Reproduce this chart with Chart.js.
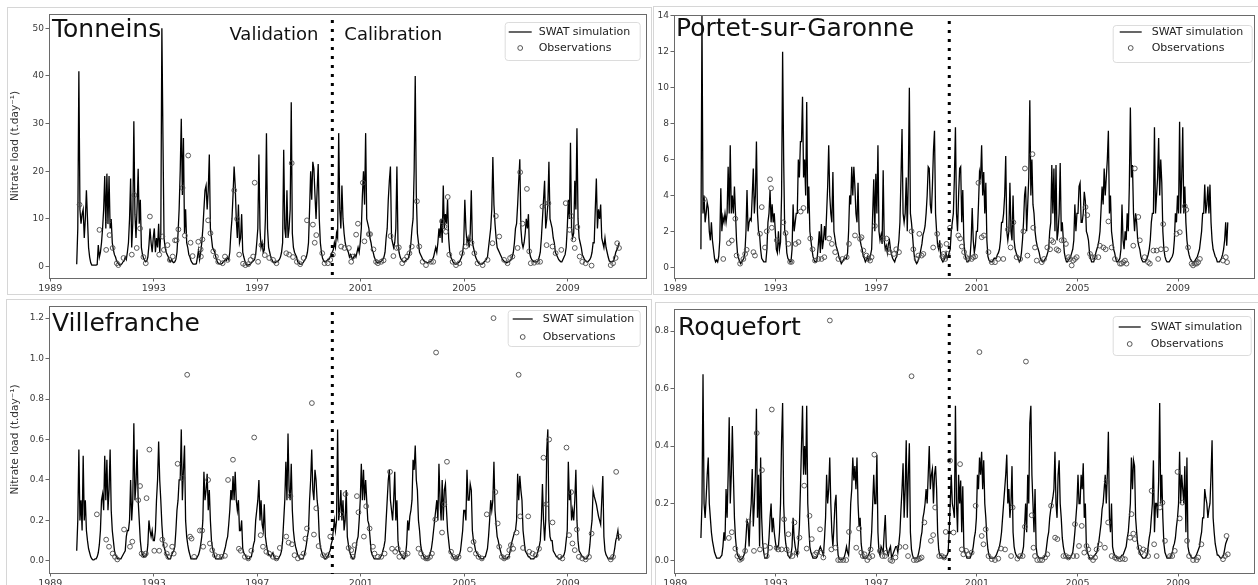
<!DOCTYPE html>
<html><head><meta charset="utf-8">
<script src="https://cdn.jsdelivr.net/npm/chart.js@4.4.1/dist/chart.umd.min.js"></script>
<style>
html,body{margin:0;padding:0;background:#fff;}
#wrap{position:relative;width:1258px;height:585px;overflow:hidden;background:#fff;}
.frame{position:absolute;border:1px solid #d6d6d6;box-sizing:border-box;}
canvas{position:absolute;}
</style></head><body>
<div id="wrap">
<div class="frame" style="left:7px;top:7px;width:645px;height:288px"></div>
<div class="frame" style="left:653px;top:6px;width:606px;height:289px"></div>
<div class="frame" style="left:6px;top:299px;width:646px;height:290px"></div>
<div class="frame" style="left:655px;top:302px;width:604px;height:287px"></div>
<canvas id="c1" width="650" height="295" style="left:0;top:0"></canvas>
<canvas id="c2" width="606" height="295" style="left:652px;top:0"></canvas>
<canvas id="c3" width="650" height="290" style="left:0;top:295px"></canvas>
<canvas id="c4" width="606" height="290" style="left:652px;top:295px"></canvas>
</div>
<script>
// ---------- DATA ----------
const simStartYear = 1990;           // first simulated year, 24 samples per year
const splitYear = 1999.9;            // validation / calibration boundary
const xTickYears = [1989, 1993, 1997, 2001, 2005, 2009];

// Tonneins (t/day)
const tonSim = [
[0.5,8,41,12,9,11,12,6,10,16,10,4,2,0.8,0.3,0.3,0.3,0.3,0.3,0.4,4.5,2,3,5],
[8,12,19,8,19.5,9,19,8,10,5,3.5,2.5,2,1.2,0.8,0.5,0.3,0.4,0.6,1,1.2,2,1.5,3],
[5,10,18.5,4,9,30.5,11,6,12.5,20.5,9,14,4,2.5,1.8,1.3,1,1.2,2,4.5,8,5,3,6],
[8,3,6,4,9,3,7,50,27,6,4,3,2.5,2,1.2,1,1.5,1,0.8,1,1.5,3,7,12],
[20,31,15,27,7,12,5,4,2.5,2,1.2,0.8,0.5,0.5,0.5,0.6,2,3.5,1.5,3,5,8,12,16],
[17,12,16,23.5,8,6,4,3.5,3,2,1.2,0.8,0.6,0.5,0.5,0.7,1,1.2,1.5,1.3,2,1.5,3,7],
[10,15,21,17,10,6,13,5,6,11,3,2,1.2,0.5,0.3,0.3,0.4,0.5,0.8,1,1.2,1.5,2.5,5],
[8,23.5,8,4,5,3,3.5,10,28,8,4,3,2,1.5,1,0.8,0.8,1,1,1.2,1.5,2,3,5],
[24.5,8,6,16,6,8,12,34.5,7,4,3,2.5,2,1,0.8,0.5,0.5,0.5,0.8,1.2,1.5,2,3,5],
[12,20,14,22,20.5,15,10,16,21.5,10,5,3,1.8,1.2,1,1,1.2,1.5,1.5,2,2.5,3,3.5,5],
[4,7,6,28,12,8,17,10,7,5,4,3.5,3,2,2.5,2,1.5,2,2.5,2,3,4,3,5],
[8,15,20,13,28,10,9,8,6,5,3.5,3,2,1.5,1,0.8,0.8,1,1,1.2,1.5,2,3,6],
[8,14,18,21,6,5,4,5,8,21,5,3,2,1.5,1.2,1,1,1.2,1.5,1.5,2,3,5,8],
[10,20,40,15,7,5,3,2.5,2,1.5,1.2,1,1,0.8,0.8,1,1,1.2,1.5,2,3,4,3,5],
[8,6,10,5,17,8,11,9,14,6,3,2,1.5,1,0.7,0.5,0.5,0.6,0.8,1,1.5,2,3,5],
[14,8,5,6,4,7,16,5,4,3,2,1.5,1,0.7,0.5,0.5,0.5,0.7,1,1.2,1.5,2,4,6],
[8,12,23,13,9,6,4,3.5,3,2.5,2,1.5,1.2,1,0.8,0.8,1,1,1.2,1.5,2,3,5,8],
[9,13,18,22.5,8,5,4,5,7,10,8,11,3,2,1.5,1.2,1,1,1,1,1.2,2,3,6],
[10,14,18,8,10,13,22,10,9,8,6,5,3,2.5,2,1.5,1.2,1,1,1.5,2,2.5,4,8],
[14,10,26,8,6,7,18,12,29,10,6,5,4,2.5,2,1.5,1.2,1,1,1.2,1.5,2,3,5],
[5,12,18.5,8,12,10,13,6,5,4,6,4,3,2,1.2,1,1,1,1.2,2,3,3.5,4,5]
];
const tonObs = [
[1990.13,13],[1990.90,7.7],[1991.16,3.5],[1991.25,9.5],[1991.29,6.6],[1991.41,3.9],[1991.57,0.7],[1991.63,0.3],[1991.83,1.8],
[1992.15,2.5],[1992.25,15],[1992.34,3.9],[1992.47,8],[1992.60,2],[1992.69,0.7],[1992.85,10.5],[1993.21,2.5],[1993.33,6.3],
[1993.39,3.5],[1993.53,4.5],[1993.62,1.4],[1993.73,2.1],[1993.82,5.5],[1993.88,5.5],[1993.95,7.8],[1994.11,16.5],[1994.20,6.5],
[1994.33,23.3],[1994.42,5],[1994.50,2.2],[1994.72,5.2],[1994.81,3.6],[1994.82,2.1],[1994.88,5.7],[1995.10,9.7],[1995.19,7],
[1995.30,3.2],[1995.40,2.1],[1995.49,1],[1995.66,0.7],[1995.75,2.1],[1995.85,1.4],[1996.11,16],[1996.22,10],[1996.30,2.5],
[1996.45,0.6],[1996.54,0.3],[1996.65,0.5],[1996.74,1.4],[1996.84,2.1],[1996.90,17.6],[1997.03,1],[1997.16,4.5],[1997.29,2.4],
[1997.46,1.8],[1997.61,1.4],[1997.74,0.7],[1998.12,2.8],[1998.23,2.5],[1998.33,21.7],[1998.38,2],[1998.53,1],[1998.66,0.5],
[1998.79,1.8],[1998.92,9.7],[1999.15,8.8],[1999.22,5],[1999.28,6.6],[1999.51,2.8],[1999.60,0.7],[1999.73,0.7],[1999.82,1.4],
[1999.92,2.5],[2000.24,4.2],[2000.37,3.9],[2000.54,3.9],[2000.63,1],[2000.69,2.1],[2000.82,6.7],[2000.89,9],[2001.08,17.6],
[2001.14,5.3],[2001.31,6.8],[2001.36,6.8],[2001.49,3.6],[2001.59,1],[2001.66,0.7],[2001.79,1],[2001.88,1.3],[2002.15,6.4],
[2002.26,2.2],[2002.39,3.9],[2002.47,4],[2002.60,0.7],[2002.69,1.4],[2002.79,2.1],[2002.88,2.8],[2002.97,4.2],[2003.17,13.7],
[2003.26,4.2],[2003.39,1],[2003.52,0.3],[2003.71,1],[2003.80,1],[2004.14,9.5],[2004.23,8.4],[2004.29,7.3],[2004.36,14.6],
[2004.42,2.5],[2004.55,1],[2004.68,0.3],[2004.81,0.7],[2004.91,2.8],[2005.06,4.2],[2005.17,5.6],[2005.28,5],[2005.39,2.8],
[2005.51,0.7],[2005.71,0.3],[2005.90,1.4],[2006.09,4.9],[2006.22,10.6],[2006.35,6.3],[2006.54,1.4],[2006.67,0.7],[2006.77,1.8],
[2006.86,2.1],[2007.06,3.9],[2007.16,19.8],[2007.25,9],[2007.42,16.3],[2007.51,3.2],[2007.57,0.7],[2007.70,0.8],[2007.83,1],
[2007.93,1],[2008.02,12.6],[2008.18,4.5],[2008.25,13.3],[2008.41,4.2],[2008.53,2.8],[2008.75,3.5],[2008.92,13.3],[2009.07,7.7],
[2009.14,10.6],[2009.22,5.7],[2009.27,3.9],[2009.37,8.3],[2009.46,2.1],[2009.56,1],[2009.69,0.7],[2009.92,0.2],[2010.66,0.3],
[2010.75,0.7],[2010.85,1.8],[2010.91,4.9],[2010.98,3.9]
];

// Portet-sur-Garonne (t/day)
const porSim = [
[1,14,3,4,2.5,3,3.6,3.3,2,1.5,2.5,1.5,1,0.5,0.3,0.4,0.3,0.6,1.5,4.4,2,2.8,2.5,3],
[2.5,3,5.6,3,6.8,3,4,3,4.5,3,1.5,0.7,0.5,0.3,0.2,0.3,0.4,0.5,0.8,2,4.3,2,2.5,2.7],
[2.6,4,5.5,3,4,7,3,2,1.8,1,0.5,0.4,0.3,0.3,0.3,1,2.5,3,4.3,2.5,3.5,2.5,3,2],
[1,0.8,2,1,1.4,4,12,6,2,1.8,0.8,0.5,0.4,0.3,0.3,1,3.5,2,2.5,3,3,6,5,7],
[7,9.5,5,6,4,9.2,3,4.5,2,1.5,1,0.6,0.4,0.3,0.3,0.5,1.2,2,0.8,2.4,1,1.5,2.3,1.5],
[3,4.5,6.8,4,3,2.5,5.3,2,1.6,1.2,1,0.8,0.5,0.4,0.2,0.3,0.4,0.5,0.5,0.5,0.8,2,4,3.5],
[5.6,4,5.6,4.5,3,2.5,4.7,2,1.5,1.2,1,0.6,0.5,0.3,0.4,0.6,0.4,0.5,0.7,1,3,4.9,2,5.2],
[3,6.8,2,1.5,1.8,1.3,5.4,1.5,1,1.2,0.8,1.3,1.5,1,0.7,0.5,0.4,0.3,0.5,0.6,1,1.5,2.5,5],
[7.7,3,2.5,3,5,2,5,10,3,2.5,1.8,1,0.5,0.3,0.2,0.3,0.5,0.7,1,1.3,1.8,2,2.3,3],
[4,5.6,5.5,3.5,3,4.5,6.5,7.6,3,2,1.2,1,1.5,0.6,0.4,0.3,0.4,0.5,0.8,0.5,0.6,0.8,1,2],
[2.5,3,5,7.8,3,2,4,5.5,5.6,2.5,4.3,1.5,0.8,0.5,0.3,0.3,0.4,0.6,1.5,3.3,1.5,0.8,1.2,2],
[2,3.5,5.3,5,6.8,4,5.3,3,4.7,1.5,0.6,0.4,0.3,0.3,0.3,0.4,0.5,0.5,0.5,0.7,0.8,1,1.5,2.5],
[2.5,3,4,6.2,2,1.5,2,4.7,2,1.5,4,1.5,1,0.8,0.6,0.5,0.3,0.4,0.8,1.5,2.5,4,4.5,2],
[3.5,5,9.3,4,6,3.5,3,2,1.5,1.2,1,0.8,0.5,0.4,0.3,0.3,0.4,0.5,0.6,0.8,1,2,2.5,5.7],
[3,5.5,2,5.7,1.5,2,3,5.8,2,2.5,1.5,0.8,0.5,0.3,0.3,0.4,0.5,0.6,0.8,1,1.5,3.5,2,3],
[3,4.5,4.7,2.5,2.5,3,4.2,3.7,2,1.8,1.5,0.8,0.5,0.3,0.3,0.3,0.5,0.8,1,1.2,1.5,2,3.2,4.5],
[3.5,5.5,4,5,6,7.6,3,4,2,1.5,1,0.8,0.5,0.3,0.3,0.4,0.5,1,3.5,1.5,1,2,1.5,3],
[2,4.5,8.9,5,5.7,3,2,3,2.5,1.5,1.2,1,0.6,0.4,0.3,0.3,0.3,0.4,0.5,0.7,1,1.5,2.5,3],
[3,7.8,3,4,5,7.2,4,6,4.7,2,1,0.6,0.4,0.3,0.3,0.3,0.4,0.5,0.6,0.8,1.5,3,2.5,4],
[3,8.1,3,5,7.8,3,4.5,2.5,1.5,1,0.7,0.5,0.4,0.3,0.3,0.3,0.4,0.5,0.6,0.8,1,1.5,2,3],
[3,4.6,3,3.5,4.5,3,4.6,2.5,1.5,1,0.8,0.6,0.5,0.3,0.3,0.3,0.4,0.5,0.7,1,1.5,2.5,1.2,2.5]
];
const porObs = [
[1990.15,3.8],[1990.91,0.46],[1991.13,1.34],[1991.25,1.49],[1991.39,2.7],[1991.44,0.65],[1991.58,0.2],[1991.71,0.46],[1991.78,0.74],
[1991.84,0.97],[1992.11,0.84],[1992.17,0.65],[1992.37,1.86],[1992.44,3.35],[1992.57,1.1],[1992.64,2],[1992.77,4.9],[1992.81,4.4],
[1992.84,2.2],[1993.04,1.5],[1993.30,2.5],[1993.39,1.9],[1993.50,1.3],[1993.57,0.3],[1993.63,0.3],[1993.79,1.3],[1993.90,1.4],
[1993.99,3.1],[1994.10,3.3],[1994.37,1.6],[1994.46,1],[1994.56,0.37],[1994.69,0.46],[1994.82,0.46],[1994.93,0.56],[1995.12,1.6],
[1995.23,1.3],[1995.36,0.84],[1995.49,0.46],[1995.65,0.46],[1995.82,0.56],[1995.91,1.3],[1996.15,1.77],[1996.35,1.58],[1996.41,1.67],
[1996.48,0.93],[1996.61,0.65],[1996.68,0.46],[1996.75,0.37],[1996.81,0.56],[1996.94,2.3],[1997.27,1.6],[1997.40,1.6],[1997.46,1],
[1997.53,0.84],[1997.70,0.74],[1997.79,1],[1997.90,0.84],[1998.40,2],[1998.47,1],[1998.60,0.46],[1998.67,0.65],[1998.71,1.86],
[1998.80,0.65],[1998.87,0.74],[1999.26,1.1],[1999.42,1.86],[1999.53,1.2],[1999.62,0.6],[1999.67,0.74],[1999.74,0.46],[1999.79,1.3],
[1999.83,0.74],[1999.93,2.2],[2000.26,1.77],[2000.33,1.6],[2000.40,1.15],[2000.49,0.84],[2000.57,0.56],[2000.66,0.46],[2000.79,0.46],
[2000.86,0.56],[2000.93,0.6],[2001.06,4.7],[2001.19,1.67],[2001.28,1.77],[2001.46,0.84],[2001.59,0.28],[2001.72,0.28],[2001.85,0.46],
[2002.05,0.46],[2002.23,2.1],[2002.34,1.1],[2002.45,2.5],[2002.58,0.56],[2002.72,0.46],[2002.85,2],[2002.91,5.5],[2003.01,0.65],
[2003.21,6.3],[2003.24,2.2],[2003.31,1.1],[2003.38,0.37],[2003.58,0.28],[2003.67,0.46],[2003.80,1.1],[2003.91,1],[2003.97,1.5],
[2004.04,1.4],[2004.17,1],[2004.24,0.93],[2004.37,1.5],[2004.46,1.5],[2004.54,1.3],[2004.64,0.56],[2004.70,0.46],[2004.77,0.1],
[2004.83,0.37],[2004.90,0.46],[2004.97,0.56],[2005.32,3.35],[2005.39,2.9],[2005.50,0.74],[2005.56,0.56],[2005.69,0.56],[2005.83,0.56],
[2005.89,1.2],[2006.03,1.1],[2006.12,1],[2006.23,2.55],[2006.36,1.1],[2006.49,0.46],[2006.69,0.2],[2006.75,0.2],[2006.82,0.28],
[2006.89,0.37],[2006.95,0.2],[2007.22,1.2],[2007.28,5.5],[2007.42,2.8],[2007.48,1.5],[2007.67,0.56],[2007.81,0.28],[2007.88,0.2],
[2008.02,0.93],[2008.15,0.93],[2008.21,0.46],[2008.32,1],[2008.41,2.4],[2008.52,1],[2008.94,1.86],[2009.07,1.95],[2009.27,3.4],
[2009.33,3.2],[2009.40,1.1],[2009.54,0.2],[2009.60,0.1],[2009.67,0.2],[2009.74,0.2],[2009.80,0.28],[2009.87,0.46],[2010.79,0.37],
[2010.90,0.56],[2010.95,0.28]
];

// Villefranche (t/day)
const vilSim = [
[0.05,0.2,0.55,0.2,0.3,0.15,0.52,0.2,0.3,0.15,0.1,0.06,0.04,0.02,0.01,0.005,0.005,0.01,0.01,0.02,0.04,0.08,0.15,0.3],
[0.33,0.25,0.52,0.3,0.5,0.25,0.35,0.55,0.25,0.15,0.1,0.05,0.03,0.02,0.01,0.01,0.01,0.01,0.02,0.03,0.04,0.05,0.12,0.15],
[0.15,0.2,0.4,0.2,0.3,0.68,0.3,0.38,0.55,0.3,0.2,0.1,0.05,0.03,0.02,0.02,0.02,0.03,0.08,0.2,0.15,0.12,0.15,0.1],
[0.1,0.15,0.3,0.4,0.59,0.4,0.3,0.18,0.1,0.07,0.05,0.03,0.02,0.01,0.01,0.01,0.03,0.04,0.05,0.07,0.15,0.25,0.3,0.4],
[0.4,0.65,0.3,0.45,0.57,0.2,0.12,0.08,0.05,0.03,0.01,0.01,0.01,0.01,0.01,0.01,0.02,0.03,0.05,0.08,0.12,0.2,0.44,0.3],
[0.35,0.43,0.25,0.35,0.2,0.1,0.06,0.04,0.02,0.01,0.01,0.01,0.01,0.01,0.01,0.02,0.03,0.05,0.07,0.1,0.12,0.18,0.25,0.35],
[0.3,0.42,0.3,0.44,0.3,0.25,0.3,0.15,0.15,0.2,0.06,0.04,0.03,0.02,0.01,0.01,0.01,0.02,0.02,0.05,0.08,0.1,0.2,0.25],
[0.3,0.4,0.2,0.3,0.18,0.15,0.28,0.12,0.08,0.05,0.03,0.03,0.02,0.03,0.04,0.02,0.01,0.01,0.01,0.01,0.02,0.03,0.05,0.1],
[0.2,0.3,0.49,0.3,0.63,0.35,0.3,0.48,0.25,0.15,0.1,0.07,0.05,0.03,0.02,0.01,0.01,0.01,0.01,0.03,0.05,0.08,0.12,0.15],
[0.3,0.4,0.55,0.35,0.3,0.45,0.4,0.3,0.25,0.12,0.07,0.05,0.03,0.02,0.01,0.01,0.02,0.02,0.04,0.05,0.08,0.1,0.15,0.2],
[0.15,0.2,0.65,0.2,0.25,0.35,0.2,0.3,0.15,0.2,0.35,0.12,0.08,0.05,0.03,0.02,0.01,0.01,0.03,0.06,0.1,0.12,0.2,0.3],
[0.48,0.3,0.45,0.3,0.4,0.3,0.2,0.18,0.12,0.05,0.03,0.02,0.01,0.01,0.01,0.01,0.01,0.01,0.02,0.03,0.05,0.07,0.1,0.2],
[0.3,0.4,0.45,0.3,0.25,0.2,0.3,0.44,0.2,0.3,0.1,0.05,0.04,0.03,0.02,0.01,0.01,0.03,0.08,0.2,0.15,0.22,0.25,0.3],
[0.5,0.45,0.57,0.4,0.35,0.2,0.15,0.08,0.05,0.03,0.02,0.01,0.01,0.01,0.01,0.02,0.04,0.06,0.1,0.15,0.2,0.25,0.3,0.2],
[0.48,0.3,0.2,0.4,0.2,0.35,0.38,0.25,0.15,0.1,0.05,0.04,0.03,0.02,0.01,0.01,0.01,0.01,0.02,0.03,0.05,0.1,0.15,0.25],
[0.25,0.2,0.45,0.3,0.3,0.38,0.35,0.15,0.1,0.08,0.05,0.04,0.03,0.02,0.02,0.01,0.01,0.01,0.02,0.02,0.04,0.06,0.12,0.2],
[0.3,0.25,0.3,0.49,0.25,0.18,0.12,0.1,0.07,0.05,0.03,0.02,0.01,0.01,0.01,0.01,0.02,0.02,0.05,0.08,0.1,0.12,0.14,0.15],
[0.2,0.43,0.3,0.42,0.35,0.3,0.15,0.1,0.05,0.04,0.03,0.02,0.02,0.01,0.01,0.01,0.01,0.02,0.02,0.03,0.05,0.07,0.1,0.2],
[0.38,0.2,0.1,0.2,0.55,0.65,0.2,0.12,0.1,0.1,0.05,0.04,0.03,0.02,0.02,0.01,0.01,0.01,0.02,0.02,0.03,0.05,0.1,0.15],
[0.49,0.3,0.35,0.2,0.25,0.2,0.3,0.45,0.2,0.1,0.05,0.04,0.03,0.02,0.02,0.01,0.01,0.01,0.02,0.03,0.08,0.15,0.2,0.35],
[0.32,0.3,0.28,0.25,0.22,0.2,0.18,0.3,0.42,0.12,0.05,0.03,0.02,0.01,0.01,0.01,0.01,0.01,0.03,0.06,0.1,0.12,0.15,0.1]
];
const vilObs = [
[1990.80,0.23],[1991.16,0.105],[1991.27,0.07],[1991.41,0.036],[1991.50,0.02],[1991.59,0.007],[1991.85,0.155],[1992.08,0.07],
[1992.17,0.095],[1992.40,0.3],[1992.47,0.37],[1992.53,0.036],[1992.60,0.028],[1992.69,0.036],[1992.72,0.31],[1992.83,0.55],
[1993.02,0.05],[1993.21,0.05],[1993.33,0.105],[1993.43,0.078],[1993.50,0.036],[1993.56,0.02],[1993.71,0.07],[1993.77,0.036],
[1993.92,0.48],[1994.11,0.41],[1994.29,0.92],[1994.40,0.12],[1994.46,0.11],[1994.56,0.02],[1994.78,0.15],[1994.87,0.15],
[1994.91,0.07],[1995.10,0.4],[1995.17,0.086],[1995.26,0.053],[1995.36,0.028],[1995.49,0.02],[1995.62,0.02],[1995.75,0.025],
[1995.87,0.4],[1996.06,0.5],[1996.29,0.06],[1996.36,0.05],[1996.52,0.02],[1996.65,0.012],[1996.77,0.05],[1996.88,0.61],
[1997.13,0.127],[1997.22,0.07],[1997.35,0.045],[1997.46,0.036],[1997.61,0.02],[1997.74,0.012],[1997.87,0.064],[1998.12,0.12],
[1998.21,0.09],[1998.28,0.32],[1998.34,0.082],[1998.44,0.028],[1998.57,0.012],[1998.70,0.02],[1998.79,0.036],[1998.86,0.11],
[1998.92,0.16],[1999.11,0.78],[1999.19,0.13],[1999.28,0.26],[1999.37,0.073],[1999.54,0.028],[1999.64,0.02],[1999.73,0.028],
[1999.82,0.12],[2000.24,0.23],[2000.41,0.33],[2000.53,0.064],[2000.63,0.053],[2000.69,0.02],[2000.76,0.078],[2000.85,0.32],
[2000.91,0.24],[2001.12,0.12],[2001.21,0.27],[2001.34,0.16],[2001.47,0.07],[2001.53,0.036],[2001.66,0.02],[2001.79,0.02],
[2001.92,0.036],[2002.13,0.44],[2002.21,0.06],[2002.33,0.045],[2002.43,0.06],[2002.49,0.02],[2002.60,0.036],[2002.71,0.028],
[2002.81,0.036],[2003.23,0.06],[2003.33,0.036],[2003.42,0.02],[2003.52,0.012],[2003.59,0.012],[2003.68,0.02],[2003.75,0.036],
[2003.88,0.205],[2003.91,1.03],[2004.14,0.14],[2004.23,0.28],[2004.33,0.49],[2004.49,0.045],[2004.58,0.02],[2004.68,0.012],
[2004.78,0.02],[2005.22,0.056],[2005.36,0.094],[2005.45,0.036],[2005.55,0.02],[2005.68,0.012],[2005.87,0.23],[2006.13,1.2],
[2006.20,0.34],[2006.29,0.185],[2006.35,0.07],[2006.45,0.02],[2006.54,0.012],[2006.67,0.02],[2006.74,0.053],[2006.80,0.078],
[2006.89,0.06],[2007.02,0.14],[2007.10,0.92],[2007.16,0.22],[2007.27,0.064],[2007.47,0.22],[2007.51,0.045],[2007.64,0.036],
[2007.76,0.028],[2007.89,0.06],[2008.06,0.51],[2008.17,0.28],[2008.28,0.6],[2008.41,0.19],[2008.69,0.02],[2008.79,0.012],
[2008.95,0.56],[2009.05,0.127],[2009.13,0.34],[2009.18,0.086],[2009.27,0.053],[2009.35,0.155],[2009.43,0.02],[2009.56,0.012],
[2009.69,0.007],[2009.82,0.02],[2009.92,0.135],[2010.66,0.007],[2010.75,0.02],[2010.87,0.44],[2010.98,0.12]
];

// Roquefort (t/day)
const roqSim = [
[0.08,0.2,0.65,0.2,0.15,0.22,0.3,0.36,0.2,0.15,0.1,0.07,0.05,0.03,0.02,0.01,0.01,0.01,0.01,0.015,0.02,0.05,0.1,0.07],
[0.25,0.15,0.3,0.5,0.2,0.3,0.47,0.3,0.15,0.08,0.04,0.02,0.015,0.005,0.005,0.008,0.01,0.02,0.03,0.08,0.14,0.13,0.05,0.15],
[0.2,0.32,0.12,0.2,0.3,0.53,0.15,0.3,0.05,0.36,0.15,0.06,0.03,0.01,0.01,0.01,0.03,0.08,0.15,0.2,0.1,0.15,0.1,0.07],
[0.04,0.05,0.05,0.1,0.2,0.42,0.55,0.2,0.1,0.06,0.04,0.02,0.015,0.01,0.02,0.05,0.15,0.08,0.05,0.03,0.02,0.06,0.12,0.25],
[0.4,0.54,0.3,0.4,0.3,0.54,0.2,0.12,0.05,0.03,0.02,0.01,0.01,0.01,0.01,0.015,0.03,0.04,0.05,0.04,0.03,0.02,0.08,0.15],
[0.3,0.2,0.25,0.36,0.2,0.1,0.05,0.12,0.2,0.23,0.07,0.02,0.008,0.005,0.005,0.005,0.008,0.015,0.03,0.05,0.03,0.02,0.08,0.2],
[0.25,0.36,0.28,0.33,0.25,0.36,0.2,0.12,0.15,0.06,0.03,0.01,0.01,0.01,0.01,0.015,0.02,0.03,0.05,0.1,0.2,0.3,0.2,0.2],
[0.37,0.1,0.03,0.02,0.05,0.04,0.03,0.1,0.16,0.05,0.03,0.02,0.04,0.05,0.01,0.02,0.03,0.04,0.05,0.05,0.03,0.06,0.1,0.18],
[0.25,0.34,0.15,0.25,0.42,0.15,0.3,0.41,0.1,0.04,0.02,0.01,0.01,0.01,0.01,0.015,0.03,0.05,0.08,0.1,0.15,0.17,0.2,0.25],
[0.2,0.3,0.4,0.25,0.3,0.32,0.2,0.3,0.33,0.25,0.1,0.04,0.02,0.02,0.015,0.01,0.01,0.01,0.015,0.02,0.03,0.1,0.2,0.3],
[0.2,0.18,0.15,0.54,0.2,0.1,0.3,0.2,0.28,0.1,0.26,0.05,0.03,0.02,0.01,0.01,0.01,0.01,0.02,0.03,0.05,0.08,0.1,0.15],
[0.3,0.25,0.36,0.3,0.38,0.25,0.35,0.2,0.15,0.08,0.04,0.02,0.01,0.01,0.01,0.01,0.01,0.015,0.02,0.03,0.04,0.05,0.07,0.1],
[0.15,0.2,0.25,0.3,0.37,0.2,0.25,0.15,0.2,0.33,0.1,0.05,0.03,0.02,0.015,0.01,0.01,0.015,0.02,0.03,0.05,0.12,0.2,0.1],
[0.3,0.2,0.48,0.54,0.3,0.2,0.1,0.25,0.05,0.02,0.015,0.01,0.01,0.01,0.01,0.01,0.015,0.02,0.05,0.08,0.1,0.15,0.18,0.2],
[0.22,0.25,0.38,0.2,0.15,0.3,0.35,0.2,0.15,0.08,0.05,0.03,0.02,0.015,0.01,0.01,0.01,0.015,0.02,0.03,0.06,0.1,0.15,0.2],
[0.3,0.2,0.2,0.3,0.25,0.34,0.15,0.2,0.05,0.03,0.02,0.01,0.01,0.01,0.01,0.015,0.02,0.025,0.03,0.05,0.07,0.1,0.13,0.18],
[0.2,0.25,0.3,0.2,0.3,0.45,0.15,0.1,0.2,0.05,0.03,0.02,0.015,0.01,0.01,0.01,0.01,0.015,0.02,0.02,0.03,0.04,0.05,0.08],
[0.1,0.15,0.2,0.36,0.25,0.35,0.33,0.15,0.1,0.06,0.04,0.03,0.02,0.015,0.01,0.01,0.01,0.015,0.02,0.05,0.08,0.1,0.15,0.2],
[0.35,0.1,0.2,0.2,0.15,0.28,0.55,0.2,0.3,0.15,0.06,0.03,0.02,0.01,0.01,0.01,0.01,0.02,0.03,0.05,0.06,0.08,0.12,0.15],
[0.2,0.38,0.2,0.3,0.25,0.2,0.33,0.1,0.36,0.05,0.03,0.02,0.015,0.01,0.01,0.01,0.015,0.02,0.03,0.04,0.05,0.08,0.1,0.15],
[0.15,0.25,0.22,0.2,0.15,0.18,0.2,0.3,0.42,0.15,0.1,0.06,0.04,0.02,0.02,0.015,0.01,0.01,0.015,0.02,0.04,0.06,0.07,0.08]
];
const roqObs = [
[1991.13,0.08],[1991.25,0.1],[1991.39,0.043],[1991.47,0.017],[1991.57,0.004],[1991.64,0.008],[1991.78,0.035],[1991.91,0.137],
[1992.13,0.035],[1992.24,0.445],[1992.37,0.04],[1992.45,0.316],[1992.57,0.052],[1992.64,0.017],[1992.77,0.046],[1992.84,0.527],
[1993.03,0.046],[1993.10,0.04],[1993.23,0.04],[1993.33,0.145],[1993.43,0.04],[1993.50,0.093],[1993.57,0.023],[1993.66,0.017],
[1993.74,0.134],[1993.83,0.029],[1993.94,0.081],[1994.13,0.262],[1994.23,0.043],[1994.34,0.157],[1994.43,0.076],[1994.56,0.023],
[1994.63,0.029],[1994.76,0.11],[1994.82,0.029],[1994.89,0.012],[1995.15,0.837],[1995.21,0.04],[1995.37,0.046],[1995.48,0.003],
[1995.57,0.003],[1995.68,0.003],[1995.80,0.003],[1995.91,0.101],[1996.20,0.046],[1996.31,0.113],[1996.40,0.029],[1996.46,0.017],
[1996.53,0.023],[1996.64,0.003],[1996.72,0.012],[1996.77,0.04],[1996.84,0.017],[1996.92,0.37],[1997.14,0.035],[1997.24,0.017],
[1997.34,0.017],[1997.40,0.029],[1997.56,0.003],[1997.63,0.0],[1997.76,0.012],[1997.92,0.049],[1998.16,0.049],[1998.26,0.017],
[1998.40,0.643],[1998.49,0.003],[1998.60,0.003],[1998.66,0.006],[1998.73,0.008],[1998.80,0.012],[1998.91,0.134],[1999.17,0.07],
[1999.26,0.09],[1999.34,0.186],[1999.50,0.017],[1999.60,0.017],[1999.70,0.012],[1999.76,0.101],[1999.93,0.349],[2000.07,0.099],
[2000.33,0.337],[2000.40,0.04],[2000.46,0.023],[2000.57,0.035],[2000.66,0.023],[2000.79,0.029],[2000.95,0.192],[2001.10,0.727],
[2001.19,0.087],[2001.26,0.058],[2001.35,0.11],[2001.46,0.017],[2001.59,0.006],[2001.72,0.003],[2001.85,0.008],[2001.96,0.043],
[2002.12,0.04],[2002.36,0.017],[2002.42,0.186],[2002.61,0.008],[2002.72,0.017],[2002.82,0.017],[2002.91,0.119],[2002.95,0.694],
[2003.18,0.159],[2003.25,0.046],[2003.31,0.017],[2003.40,0.003],[2003.51,0.003],[2003.60,0.003],[2003.71,0.012],[2003.80,0.023],
[2003.95,0.192],[2004.11,0.081],[2004.20,0.076],[2004.44,0.017],[2004.54,0.017],[2004.64,0.012],[2004.83,0.017],[2004.90,0.128],
[2004.97,0.017],[2005.06,0.052],[2005.17,0.122],[2005.27,0.029],[2005.36,0.052],[2005.43,0.04],[2005.52,0.012],[2005.62,0.003],
[2005.70,0.012],[2005.76,0.04],[2005.89,0.058],[2006.09,0.046],[2006.16,0.276],[2006.22,0.134],[2006.36,0.017],[2006.49,0.012],
[2006.56,0.008],[2006.69,0.006],[2006.79,0.008],[2006.89,0.006],[2007.09,0.081],[2007.15,0.163],[2007.22,0.095],[2007.28,0.076],
[2007.46,0.046],[2007.52,0.029],[2007.62,0.04],[2007.75,0.035],[2007.81,0.017],[2007.95,0.244],[2008.05,0.058],[2008.15,0.017],
[2008.28,0.186],[2008.38,0.203],[2008.48,0.07],[2008.68,0.017],[2008.77,0.017],[2008.87,0.035],[2008.98,0.31],[2009.07,0.148],
[2009.17,0.203],[2009.36,0.07],[2009.44,0.017],[2009.60,0.003],[2009.74,0.003],[2009.80,0.012],[2009.93,0.058],[2010.79,0.006],
[2010.87,0.017],[2010.93,0.087],[2010.98,0.023]
];

const tonYTicks = [0, 10, 20, 30, 40, 50];
const porYTicks = [0, 2, 4, 6, 8, 10, 12, 14];
const vilYTicks = [0, 0.2, 0.4, 0.6, 0.8, 1.0, 1.2];
const roqYTicks = [0, 0.2, 0.4, 0.6, 0.8];
const yTitle = 'Nitrate load (t.day\u207B\u00B9)';
const simLabel = 'SWAT simulation';
const obsLabel = 'Observations';

// ---------- RENDER ----------
Chart.defaults.font.family = '"DejaVu Sans", sans-serif';
Chart.defaults.animation = false;

function simPoints(rows) {
  const pts = [];
  rows.forEach((row, yi) => row.forEach((v, k) => pts.push({x: simStartYear + yi + (k + 0.5) / row.length, y: v})));
  return pts;
}
function obsPoints(arr) { return arr.map(([t, v]) => ({x: t, y: v})); }

const decor = {
  id: 'decor',
  afterDatasetsDraw(chart, args, o) {
    const {ctx, chartArea: a, scales} = chart;
    ctx.save();
    ctx.strokeStyle = '#6a6a6a'; ctx.lineWidth = 1;
    ctx.strokeRect(Math.round(a.left) + 0.5, Math.round(a.top) + 0.5, Math.round(a.right - a.left) - 1, Math.round(a.bottom - a.top));
    const xs = scales.x.getPixelForValue(o.split);
    ctx.strokeStyle = '#000'; ctx.lineWidth = 3; ctx.setLineDash([3, 6]);
    ctx.beginPath(); ctx.moveTo(xs, a.top + 6); ctx.lineTo(xs, a.bottom + 1); ctx.stroke();
    ctx.setLineDash([]);
    ctx.fillStyle = '#111'; ctx.textBaseline = 'alphabetic'; ctx.textAlign = 'left';
    ctx.font = '25px "DejaVu Sans"';
    ctx.fillText(o.name, a.left + o.nameDx, a.top + o.nameDy);
    if (o.periods) {
      ctx.font = '18px "DejaVu Sans"';
      ctx.textAlign = 'right'; ctx.fillText('Validation', xs - 14, a.top + 26);
      ctx.textAlign = 'left'; ctx.fillText('Calibration', xs + 12, a.top + 26);
    }
    const L = o.legend;
    const bx = a.right - L.dx - L.w, by = a.top + L.dy;
    ctx.fillStyle = 'rgba(255,255,255,0.85)'; ctx.strokeStyle = '#dcdcdc'; ctx.lineWidth = 1;
    ctx.beginPath(); ctx.roundRect(bx + 0.5, by + 0.5, L.w, L.h, 3); ctx.fill(); ctx.stroke();
    ctx.strokeStyle = '#000'; ctx.lineWidth = 1.2;
    ctx.beginPath(); ctx.moveTo(bx + L.lx0, by + L.r1); ctx.lineTo(bx + L.lx1, by + L.r1); ctx.stroke();
    ctx.strokeStyle = '#444'; ctx.lineWidth = 0.9;
    ctx.beginPath(); ctx.arc(bx + (L.lx0 + L.lx1) / 2, by + L.r2, 2.4, 0, Math.PI * 2); ctx.stroke();
    ctx.fillStyle = '#222'; ctx.font = '11px "DejaVu Sans"'; ctx.textBaseline = 'middle'; ctx.textAlign = 'left';
    ctx.fillText(simLabel, bx + L.tx, by + L.r1);
    ctx.fillText(obsLabel, bx + L.tx, by + L.r2);
    ctx.restore();
  }
};

function makePanel(id, cfg) {
  const fmt = cfg.decimals ? (v => Number(v).toFixed(1)) : (v => String(v));
  new Chart(document.getElementById(id), {
    type: 'scatter',
    data: {
      datasets: [
        {label: obsLabel, data: obsPoints(cfg.obs), pointRadius: 2.4, pointHoverRadius: 2.4,
         pointBorderWidth: 0.9, pointBorderColor: '#4a4a4a', pointBackgroundColor: 'rgba(255,255,255,0)', showLine: false},
        {label: simLabel, type: 'line', data: simPoints(cfg.sim), borderColor: '#000', borderWidth: 1.3,
         pointRadius: 0, tension: 0, fill: false}
      ]
    },
    options: {
      responsive: false, animation: false, events: [],
      layout: {padding: {top: cfg.g.top, right: cfg.g.right, left: 0, bottom: 0}},
      plugins: {legend: {display: false}, tooltip: {enabled: false},
        decor: {split: splitYear, name: cfg.name, nameDx: cfg.nameDx, nameDy: cfg.nameDy, periods: cfg.periods, legend: cfg.legend}},
      scales: {
        x: {type: 'linear', min: 1988.95, max: 2012.05,
          afterBuildTicks: s => { s.ticks = xTickYears.map(v => ({value: v})); },
          afterFit: s => { s.height = cfg.g.xH; },
          ticks: {font: {size: 9.5}, color: '#3a3a3a', padding: 1, maxRotation: 0, autoSkip: false, callback: v => String(v)},
          grid: {drawOnChartArea: false, drawTicks: true, tickLength: 3.5, color: '#666', tickColor: '#666'},
          border: {display: false}},
        y: {type: 'linear', min: cfg.yMin, max: cfg.yMax,
          afterBuildTicks: s => { s.ticks = cfg.yTicks.map(v => ({value: v})); },
          afterFit: s => { s.width = cfg.g.yW; },
          ticks: {font: {size: 9}, color: '#3a3a3a', padding: 1.5, autoSkip: false, callback: fmt},
          grid: {drawOnChartArea: false, drawTicks: true, tickLength: 3.5, color: '#666', tickColor: '#666'},
          border: {display: false},
          title: {display: !!cfg.yTitle, text: yTitle, font: {size: 10.5}, color: '#333', padding: {top: 8.5, bottom: 0}}}
      }
    },
    plugins: [decor]
  });
}

makePanel('c1', {sim: tonSim, obs: tonObs, yMin: -2.4, yMax: 53, yTicks: tonYTicks, yTitle: true,
  name: 'Tonneins', nameDx: 3, nameDy: 23, periods: true,
  g: {top: 14, right: 3, xH: 17, yW: 49},
  legend: {dx: 7, dy: 8, w: 135, h: 38, lx0: 4, lx1: 27, tx: 34, r1: 10, r2: 26}});
makePanel('c2', {sim: porSim, obs: porObs, yMin: -0.6, yMax: 14.05, yTicks: porYTicks, yTitle: false,
  name: 'Portet-sur-Garonne', nameDx: 2, nameDy: 21, periods: false,
  g: {top: 15, right: 3, xH: 17, yW: 22},
  legend: {dx: 3, dy: 10, w: 139, h: 37, lx0: 7, lx1: 29, tx: 39, r1: 7, r2: 23}});
makePanel('c3', {sim: vilSim, obs: vilObs, yMin: -0.06, yMax: 1.26, yTicks: vilYTicks, yTitle: true, decimals: true,
  name: 'Villefranche', nameDx: 3, nameDy: 25, periods: false,
  g: {top: 11, right: 3, xH: 12, yW: 49},
  legend: {dx: 7, dy: 4, w: 132, h: 36, lx0: 5, lx1: 25, tx: 35, r1: 9, r2: 27}});
makePanel('c4', {sim: roqSim, obs: roqObs, yMin: -0.042, yMax: 0.877, yTicks: roqYTicks, yTitle: false, decimals: true,
  name: 'Roquefort', nameDx: 4, nameDy: 26, periods: false,
  g: {top: 14, right: 2, xH: 12, yW: 22},
  legend: {dx: 4, dy: 7, w: 138, h: 39, lx0: 6, lx1: 28, tx: 38, r1: 11, r2: 28}});
</script>
</body></html>
